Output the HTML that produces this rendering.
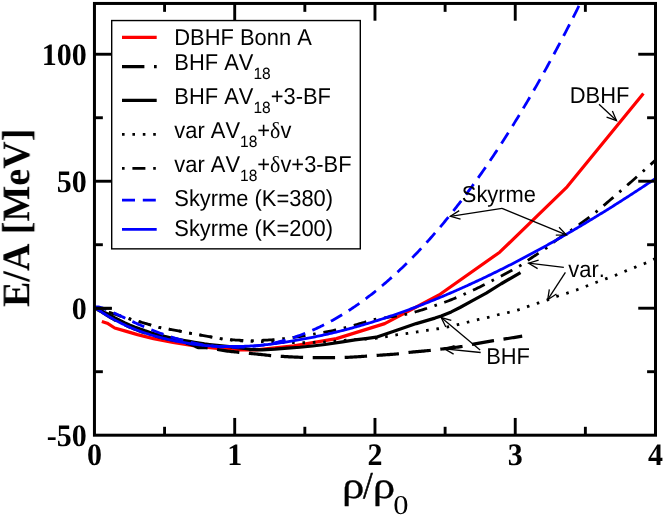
<!DOCTYPE html>
<html><head><meta charset="utf-8"><title>EOS</title>
<style>html,body{margin:0;padding:0;background:#fff;}svg{display:block;}text{font-kerning:none;}</style>
</head><body>
<svg width="664" height="515" viewBox="0 0 664 515">
<rect x="0" y="0" width="664" height="515" fill="#fff"/>
<defs><clipPath id="pc"><rect x="94.45" y="3.45" width="561.05" height="431.75"/></clipPath></defs>
<g clip-path="url(#pc)" fill="none" stroke-linejoin="round">
<polyline points="101.84,321.40 107.21,323.20 114.72,328.00 124.70,330.90 137.52,334.60 153.53,338.60 173.09,342.40 196.55,346.20 224.26,349.10 239.82,349.80 256.58,349.90 293.86,345.80 336.46,338.60 384.73,323.60 439.03,295.00 499.71,252.20 567.13,186.80 643.40,93.40" stroke="#ff0000" stroke-width="3.2"/>
<polyline points="94.45,308.21 95.88,308.91 97.31,309.63 98.74,310.39 100.17,311.17 101.60,311.98 103.03,312.84 104.46,313.76 105.89,314.69 107.33,315.60 108.76,316.47 110.19,317.31 111.62,318.14 113.05,318.94 114.48,319.73 115.91,320.49 117.34,321.24 118.77,321.98 120.20,322.69 121.63,323.39 123.06,324.08 124.49,324.75 125.92,325.40 127.35,326.04 128.78,326.67 130.22,327.28 131.65,327.87 133.08,328.46 134.51,329.03 135.94,329.58 137.37,330.13 138.80,330.66 140.23,331.18 141.66,331.69 143.09,332.18 144.52,332.66 145.95,333.14 147.38,333.60 148.81,334.05 150.24,334.49 151.67,334.92 153.10,335.33 154.54,335.74 155.97,336.14 157.40,336.52 158.83,336.90 160.26,337.27 161.69,337.62 163.12,337.97 164.55,338.31 165.98,338.64 167.41,338.97 168.84,339.28 170.27,339.59 171.70,339.90 173.13,340.20 174.56,340.49 175.99,340.79 177.42,341.09 178.86,341.39 180.29,341.71 181.72,342.02 183.15,342.35 184.58,342.69 186.01,343.06 187.44,343.44 188.87,343.84 190.30,344.26 191.73,344.71 193.16,345.23 194.59,345.93 196.02,346.70 197.45,347.36 198.88,347.74 200.31,347.62 201.75,347.51 203.18,347.55 204.61,347.63 206.04,347.75 207.47,347.90 208.90,348.08 210.33,348.28 211.76,348.50 213.19,348.73 214.62,348.98 216.05,349.23 217.48,349.49 218.91,349.74 220.34,350.00 221.77,350.24 223.20,350.47 224.63,350.69 226.07,350.88 227.50,351.06 228.93,351.22 230.36,351.38 231.79,351.54 233.22,351.69 234.65,351.85 236.08,352.00 237.51,352.14 238.94,352.29 240.37,352.43 241.80,352.58 243.23,352.72 244.66,352.86 246.09,353.01 247.52,353.15 248.96,353.29 250.39,353.44 251.82,353.58 253.25,353.72 254.68,353.86 256.11,354.01 257.54,354.15 258.97,354.29 260.40,354.44 261.83,354.60 263.26,354.77 264.69,354.93 266.12,355.10 267.55,355.26 268.98,355.40 270.41,355.54 271.84,355.66 273.28,355.78 274.71,355.89 276.14,356.00 277.57,356.10 279.00,356.20 280.43,356.29 281.86,356.38 283.29,356.46 284.72,356.55 286.15,356.63 287.58,356.71 289.01,356.79 290.44,356.86 291.87,356.94 293.30,357.01 294.73,357.08 296.16,357.14 297.60,357.20 299.03,357.26 300.46,357.32 301.89,357.38 303.32,357.43 304.75,357.49 306.18,357.55 307.61,357.60 309.04,357.65 310.47,357.68 311.90,357.70 313.33,357.70 314.76,357.70 316.19,357.70 317.62,357.69 319.05,357.69 320.49,357.68 321.92,357.67 323.35,357.67 324.78,357.66 326.21,357.65 327.64,357.64 329.07,357.63 330.50,357.62 331.93,357.60 333.36,357.59 334.79,357.58 336.22,357.56 337.65,357.54 339.08,357.52 340.51,357.49 341.94,357.47 343.37,357.44 344.81,357.40 346.24,357.37 347.67,357.32 349.10,357.26 350.53,357.19 351.96,357.11 353.39,357.02 354.82,356.93 356.25,356.84 357.68,356.74 359.11,356.64 360.54,356.54 361.97,356.44 363.40,356.33 364.83,356.24 366.26,356.14 367.69,356.05 369.13,355.96 370.56,355.86 371.99,355.77 373.42,355.67 374.85,355.57 376.28,355.47 377.71,355.37 379.14,355.27 380.57,355.17 382.00,355.07 383.43,354.97 384.86,354.87 386.29,354.77 387.72,354.67 389.15,354.56 390.58,354.46 392.02,354.34 393.45,354.23 394.88,354.11 396.31,353.98 397.74,353.85 399.17,353.71 400.60,353.55 402.03,353.36 403.46,353.17 404.89,352.97 406.32,352.77 407.75,352.57 409.18,352.39 410.61,352.23 412.04,352.08 413.47,351.94 414.90,351.80 416.34,351.67 417.77,351.54 419.20,351.41 420.63,351.29 422.06,351.17 423.49,351.04 424.92,350.91 426.35,350.78 427.78,350.65 429.21,350.51 430.64,350.36 432.07,350.21 433.50,350.05 434.93,349.88 436.36,349.71 437.79,349.53 439.23,349.35 440.66,349.17 442.09,349.00 443.52,348.82 444.95,348.65 446.38,348.49 447.81,348.32 449.24,348.15 450.67,347.98 452.10,347.81 453.53,347.64 454.96,347.46 456.39,347.27 457.82,347.08 459.25,346.88 460.68,346.68 462.11,346.46 463.55,346.23 464.98,345.99 466.41,345.70 467.84,345.40 469.27,345.09 470.70,344.77 472.13,344.47 473.56,344.19 474.99,343.92 476.42,343.64 477.85,343.37 479.28,343.11 480.71,342.84 482.14,342.58 483.57,342.32 485.00,342.06 486.43,341.81 487.87,341.56 489.30,341.31 490.73,341.07 492.16,340.83 493.59,340.60 495.02,340.37 496.45,340.15 497.88,339.94 499.31,339.73 500.74,339.52 502.17,339.32 503.60,339.11 505.03,338.90 506.46,338.68 507.89,338.46 509.32,338.24 510.76,338.02 512.19,337.79 513.62,337.57 515.05,337.34 516.48,337.12 517.91,336.89 519.34,336.66 520.77,336.43 522.20,336.20" stroke="#000" stroke-width="3.2" stroke-dasharray="22.40,9.60" stroke-dashoffset="-2.8"/>
<polyline points="94.45,308.21 99.45,309.70 104.45,312.33 109.45,314.80 114.45,317.58 119.45,320.21 124.45,322.63 129.45,324.87 134.45,326.94 139.45,328.85 144.45,330.62 149.45,332.24 154.45,333.73 159.45,335.09 164.45,336.34 169.45,337.47 174.45,338.58 179.45,339.60 184.45,340.51 189.45,341.34 194.45,342.28 199.45,343.16 204.45,343.95 209.45,344.57 214.45,345.10 219.45,345.67 224.45,346.19 229.45,346.71 234.45,347.36 239.45,347.94 244.45,348.53 249.45,349.23 250.00,349.60 262.00,349.80 275.00,349.20 287.50,348.20 300.00,347.25 312.50,346.00 325.00,344.50 342.50,341.90 355.00,339.90 367.50,338.30 376.25,337.20 397.50,330.00 416.25,323.60 435.00,318.10 441.25,316.00 451.25,311.90 460.00,307.50 472.50,300.60 486.25,293.20 501.25,283.75 520.50,272.60" stroke="#000" stroke-width="3.2"/>
<polyline points="99.00,309.10 100.40,309.55 101.79,310.01 103.19,310.46 104.58,310.91 105.98,311.36 107.37,311.81 108.77,312.26 110.16,312.71 111.56,313.16 112.95,313.61 114.35,314.06 115.75,314.51 117.14,314.96 118.54,315.41 119.93,315.86 121.33,316.31 122.72,316.76 124.12,317.20 125.51,317.64 126.91,318.08 128.31,318.51 129.70,318.93 131.10,319.35 132.49,319.76 133.89,320.17 135.28,320.57 136.68,320.96 138.07,321.35 139.47,321.74 140.86,322.13 142.26,322.52 143.66,322.91 145.05,323.30 146.45,323.70 147.84,324.12 149.24,324.55 150.63,324.98 152.03,325.42 153.42,325.85 154.82,326.27 156.22,326.67 157.61,327.05 159.01,327.41 160.40,327.73 161.80,328.02 163.19,328.29 164.59,328.54 165.98,328.77 167.38,329.00 168.77,329.22 170.17,329.43 171.57,329.65 172.96,329.88 174.36,330.11 175.75,330.35 177.15,330.62 178.54,330.89 179.94,331.16 181.33,331.45 182.73,331.73 184.12,332.02 185.52,332.31 186.92,332.60 188.31,332.88 189.71,333.15 191.10,333.42 192.50,333.68 193.89,333.93 195.29,334.18 196.68,334.43 198.08,334.68 199.48,334.92 200.87,335.16 202.27,335.40 203.66,335.65 205.06,335.89 206.45,336.14 207.85,336.39 209.24,336.65 210.64,336.91 212.03,337.18 213.43,337.44 214.83,337.70 216.22,337.95 217.62,338.20 219.01,338.42 220.41,338.64 221.80,338.83 223.20,339.01 224.59,339.19 225.99,339.37 227.38,339.55 228.78,339.72 230.18,339.89 231.57,340.05 232.97,340.21 234.36,340.35 235.76,340.49 237.15,340.62 238.55,340.73 239.94,340.83 241.34,340.92 242.74,340.99 244.13,341.05 245.53,341.09 246.92,341.14 248.32,341.18 249.71,341.21 251.11,341.25 252.50,341.29 253.90,341.33 255.29,341.37 256.69,341.42 258.09,341.46 259.48,341.50 260.88,341.55 262.27,341.58 263.67,341.61 265.06,341.64 266.46,341.67 267.85,341.69 269.25,341.71 270.65,341.74 272.04,341.76 273.44,341.80 274.83,341.84 276.23,341.90 277.62,341.97 279.02,342.05 280.41,342.13 281.81,342.20 283.20,342.27 284.60,342.34 286.00,342.41 287.39,342.48 288.79,342.54 290.18,342.61 291.58,342.66 292.97,342.69 294.37,342.71 295.76,342.72 297.16,342.73 298.55,342.73 299.95,342.74 301.35,342.75 302.74,342.75 304.14,342.75 305.53,342.74 306.93,342.69 308.32,342.63 309.72,342.55 311.11,342.47 312.51,342.39 313.91,342.32 315.30,342.27 316.70,342.23 318.09,342.20 319.49,342.16 320.88,342.13 322.28,342.09 323.67,342.05 325.07,342.00 326.46,341.92 327.86,341.83 329.26,341.72 330.65,341.59 332.05,341.47 333.44,341.34 334.84,341.21 336.23,341.09 337.63,340.97 339.02,340.84 340.42,340.72 341.82,340.59 343.21,340.47 344.61,340.35 346.00,340.24 347.40,340.14 348.79,340.04 350.19,339.95 351.58,339.86 352.98,339.77 354.37,339.69 355.77,339.60 357.17,339.52 358.56,339.44 359.96,339.36 361.35,339.28 362.75,339.20 364.14,339.11 365.54,339.03 366.93,338.93 368.33,338.84 369.72,338.73 371.12,338.63 372.52,338.51 373.91,338.39 375.31,338.26 376.70,338.12 378.10,337.96 379.49,337.77 380.89,337.55 382.28,337.31 383.68,337.06 385.08,336.81 386.47,336.57 387.87,336.34 389.26,336.09 390.66,335.85 392.05,335.60 393.45,335.35 394.84,335.11 396.24,334.88 397.63,334.67 399.03,334.47 400.43,334.29 401.82,334.11 403.22,333.93 404.61,333.75 406.01,333.57 407.40,333.38 408.80,333.18 410.19,332.98 411.59,332.78 412.98,332.58 414.38,332.37 415.78,332.16 417.17,331.95 418.57,331.73 419.96,331.51 421.36,331.28 422.75,331.05 424.15,330.82 425.54,330.60 426.94,330.38 428.34,330.16 429.73,329.96 431.13,329.77 432.52,329.58 433.92,329.38 435.31,329.19 436.71,328.98 438.10,328.75 439.50,328.50 440.89,328.24 442.29,327.96 443.69,327.66 445.08,327.37 446.48,327.07 447.87,326.77 449.27,326.48 450.66,326.18 452.06,325.88 453.45,325.58 454.85,325.28 456.25,324.97 457.64,324.65 459.04,324.33 460.43,323.99 461.83,323.65 463.22,323.30 464.62,322.95 466.01,322.60 467.41,322.25 468.80,321.90 470.20,321.55 471.60,321.20 472.99,320.85 474.39,320.50 475.78,320.16 477.18,319.82 478.57,319.48 479.97,319.16 481.36,318.85 482.76,318.54 484.15,318.24 485.55,317.93 486.95,317.61 488.34,317.29 489.74,316.94 491.13,316.58 492.53,316.21 493.92,315.84 495.32,315.46 496.71,315.09 498.11,314.74 499.51,314.41 500.90,314.10 502.30,313.80 503.69,313.51 505.09,313.21 506.48,312.91 507.88,312.59 509.27,312.26 510.67,311.92 512.06,311.57 513.46,311.21 514.86,310.83 516.25,310.45 517.65,310.04 519.04,309.63 520.44,309.18 521.83,308.70 523.23,308.20 524.62,307.69 526.02,307.18 527.42,306.68 528.81,306.19 530.21,305.72 531.60,305.26 533.00,304.80 534.39,304.34 535.79,303.87 537.18,303.41 538.58,302.94 539.97,302.47 541.37,301.99 542.77,301.52 544.16,301.04 545.56,300.56 546.95,300.07 548.35,299.58 549.74,299.06 551.14,298.54 552.53,298.01 553.93,297.47 555.32,296.95 556.72,296.44 558.12,295.96 559.51,295.50 560.91,295.06 562.30,294.64 563.70,294.21 565.09,293.79 566.49,293.36 567.88,292.91 569.28,292.45 570.68,291.99 572.07,291.52 573.47,291.05 574.86,290.56 576.26,290.07 577.65,289.56 579.05,289.04 580.44,288.49 581.84,287.94 583.23,287.39 584.63,286.83 586.03,286.28 587.42,285.74 588.82,285.20 590.21,284.66 591.61,284.12 593.00,283.58 594.40,283.04 595.79,282.51 597.19,281.98 598.58,281.45 599.98,280.92 601.38,280.39 602.77,279.87 604.17,279.35 605.56,278.83 606.96,278.33 608.35,277.83 609.75,277.35 611.14,276.87 612.54,276.38 613.94,275.88 615.33,275.36 616.73,274.81 618.12,274.24 619.52,273.64 620.91,273.04 622.31,272.43 623.70,271.83 625.10,271.24 626.49,270.67 627.89,270.11 629.29,269.56 630.68,269.01 632.08,268.46 633.47,267.91 634.87,267.35 636.26,266.80 637.66,266.26 639.05,265.72 640.45,265.17 641.85,264.62 643.24,264.06 644.64,263.48 646.03,262.88 647.43,262.24 648.82,261.58 650.22,260.91 651.61,260.24 653.01,259.60 654.40,258.98 655.80,258.40" stroke="#000" stroke-width="2.8" stroke-dasharray="2.59,7.78"/>
<polyline points="99.00,309.10 100.39,309.55 101.79,310.01 103.18,310.46 104.57,310.91 105.97,311.36 107.36,311.81 108.75,312.26 110.15,312.71 111.54,313.15 112.93,313.60 114.33,314.05 115.72,314.50 117.12,314.95 118.51,315.40 119.90,315.85 121.30,316.30 122.69,316.75 124.08,317.19 125.48,317.63 126.87,318.07 128.26,318.50 129.66,318.92 131.05,319.34 132.44,319.75 133.84,320.15 135.23,320.55 136.62,320.94 138.02,321.33 139.41,321.72 140.80,322.11 142.20,322.50 143.59,322.89 144.98,323.28 146.38,323.68 147.77,324.10 149.17,324.52 150.56,324.96 151.95,325.39 153.35,325.82 154.74,326.24 156.13,326.65 157.53,327.03 158.92,327.39 160.31,327.71 161.71,328.00 163.10,328.27 164.49,328.52 165.89,328.76 167.28,328.98 168.67,329.20 170.07,329.42 171.46,329.63 172.85,329.86 174.25,330.09 175.64,330.33 177.04,330.59 178.43,330.86 179.82,331.14 181.22,331.42 182.61,331.71 184.00,332.00 185.40,332.29 186.79,332.57 188.18,332.85 189.58,333.13 190.97,333.39 192.36,333.65 193.76,333.91 195.15,334.16 196.54,334.41 197.94,334.65 199.33,334.89 200.72,335.14 202.12,335.38 203.51,335.62 204.90,335.86 206.30,336.11 207.69,336.36 209.09,336.63 210.48,336.90 211.87,337.17 213.27,337.44 214.66,337.71 216.05,337.96 217.45,338.21 218.84,338.43 220.23,338.63 221.63,338.80 223.02,338.96 224.41,339.11 225.81,339.25 227.20,339.39 228.59,339.52 229.99,339.64 231.38,339.75 232.77,339.85 234.17,339.94 235.56,340.03 236.95,340.10 238.35,340.16 239.74,340.23 241.14,340.30 242.53,340.36 243.92,340.42 245.32,340.47 246.71,340.51 248.10,340.55 249.50,340.58 250.89,340.60 252.28,340.60 253.68,340.59 255.07,340.57 256.46,340.54 257.86,340.50 259.25,340.45 260.64,340.39 262.04,340.33 263.43,340.26 264.82,340.19 266.22,340.12 267.61,340.05 269.01,339.97 270.40,339.89 271.79,339.79 273.19,339.67 274.58,339.55 275.97,339.42 277.37,339.28 278.76,339.14 280.15,338.99 281.55,338.84 282.94,338.69 284.33,338.54 285.73,338.38 287.12,338.21 288.51,338.04 289.91,337.87 291.30,337.69 292.69,337.50 294.09,337.31 295.48,337.11 296.87,336.91 298.27,336.71 299.66,336.50 301.06,336.29 302.45,336.06 303.84,335.84 305.24,335.60 306.63,335.36 308.02,335.12 309.42,334.88 310.81,334.63 312.20,334.38 313.60,334.14 314.99,333.90 316.38,333.66 317.78,333.42 319.17,333.18 320.56,332.94 321.96,332.70 323.35,332.45 324.74,332.20 326.14,331.95 327.53,331.69 328.92,331.42 330.32,331.13 331.71,330.84 333.11,330.54 334.50,330.23 335.89,329.91 337.29,329.59 338.68,329.25 340.07,328.91 341.47,328.57 342.86,328.22 344.25,327.88 345.65,327.52 347.04,327.16 348.43,326.79 349.83,326.42 351.22,326.04 352.61,325.65 354.01,325.26 355.40,324.87 356.79,324.48 358.19,324.09 359.58,323.70 360.97,323.31 362.37,322.90 363.76,322.48 365.16,322.05 366.55,321.61 367.94,321.19 369.34,320.77 370.73,320.38 372.12,320.01 373.52,319.67 374.91,319.37 376.30,319.10 377.70,318.85 379.09,318.62 380.48,318.40 381.88,318.19 383.27,317.99 384.66,317.79 386.06,317.60 387.45,317.39 388.84,317.18 390.24,316.96 391.63,316.74 393.03,316.52 394.42,316.31 395.81,316.10 397.21,315.88 398.60,315.66 399.99,315.43 401.39,315.20 402.78,314.95 404.17,314.69 405.57,314.41 406.96,314.11 408.35,313.78 409.75,313.43 411.14,313.06 412.53,312.68 413.93,312.29 415.32,311.88 416.71,311.47 418.11,311.05 419.50,310.64 420.89,310.22 422.29,309.80 423.68,309.36 425.08,308.92 426.47,308.47 427.86,308.01 429.26,307.55 430.65,307.08 432.04,306.61 433.44,306.13 434.83,305.66 436.22,305.18 437.62,304.70 439.01,304.22 440.40,303.74 441.80,303.25 443.19,302.75 444.58,302.25 445.98,301.74 447.37,301.23 448.76,300.70 450.16,300.16 451.55,299.61 452.94,299.05 454.34,298.47 455.73,297.88 457.13,297.29 458.52,296.69 459.91,296.09 461.31,295.48 462.70,294.86 464.09,294.25 465.49,293.63 466.88,293.01 468.27,292.38 469.67,291.75 471.06,291.11 472.45,290.47 473.85,289.82 475.24,289.17 476.63,288.50 478.03,287.83 479.42,287.16 480.81,286.47 482.21,285.77 483.60,285.06 484.99,284.34 486.39,283.63 487.78,282.91 489.18,282.18 490.57,281.46 491.96,280.75 493.36,280.03 494.75,279.32 496.14,278.61 497.54,277.90 498.93,277.19 500.32,276.47 501.72,275.75 503.11,275.03 504.50,274.30 505.90,273.56 507.29,272.82 508.68,272.08 510.08,271.34 511.47,270.60 512.86,269.85 514.26,269.09 515.65,268.31 517.05,267.52 518.44,266.70 519.83,265.86 521.23,264.98 522.62,264.06 524.01,263.11 525.41,262.15 526.80,261.17 528.19,260.18 529.59,259.20 530.98,258.23 532.37,257.28 533.77,256.36 535.16,255.46 536.55,254.57 537.95,253.68 539.34,252.79 540.73,251.89 542.13,250.97 543.52,250.03 544.91,249.06 546.31,248.05 547.70,246.98 549.10,245.89 550.49,244.77 551.88,243.65 553.28,242.53 554.67,241.43 556.06,240.36 557.46,239.33 558.85,238.35 560.24,237.40 561.64,236.47 563.03,235.56 564.42,234.66 565.82,233.76 567.21,232.86 568.60,231.94 570.00,231.01 571.39,230.06 572.78,229.09 574.18,228.12 575.57,227.14 576.96,226.15 578.36,225.16 579.75,224.16 581.15,223.16 582.54,222.15 583.93,221.13 585.33,220.11 586.72,219.08 588.11,218.05 589.51,217.01 590.90,215.96 592.29,214.90 593.69,213.82 595.08,212.73 596.47,211.62 597.87,210.48 599.26,209.33 600.65,208.15 602.05,206.96 603.44,205.77 604.83,204.57 606.23,203.38 607.62,202.18 609.02,200.99 610.41,199.79 611.80,198.59 613.20,197.40 614.59,196.20 615.98,195.00 617.38,193.79 618.77,192.59 620.16,191.38 621.56,190.18 622.95,188.97 624.34,187.76 625.74,186.54 627.13,185.33 628.52,184.11 629.92,182.90 631.31,181.68 632.70,180.45 634.10,179.23 635.49,178.01 636.88,176.78 638.28,175.55 639.67,174.32 641.07,173.08 642.46,171.84 643.85,170.60 645.25,169.36 646.64,168.12 648.03,166.87 649.43,165.62 650.82,164.37 652.21,163.12 653.61,161.86 655.00,160.60" stroke="#000" stroke-width="2.8" stroke-dasharray="2.60,7.80,13.00,7.80"/>
<polyline points="94.45,308.21 95.72,306.99 96.98,306.86 98.25,306.97 99.51,307.21 100.78,307.54 102.04,307.93 103.31,308.36 104.57,308.83 105.84,309.32 107.11,309.84 108.37,310.37 109.64,310.92 110.90,311.48 112.17,312.05 113.43,312.63 114.70,313.22 115.96,313.81 117.23,314.40 118.50,315.00 119.76,315.60 121.03,316.20 122.29,316.79 123.56,317.39 124.82,317.99 126.09,318.59 127.35,319.19 128.62,319.78 129.88,320.37 131.15,320.96 132.42,321.55 133.68,322.13 134.95,322.71 136.21,323.28 137.48,323.85 138.74,324.42 140.01,324.98 141.27,325.54 142.54,326.09 143.81,326.64 145.07,327.18 146.34,327.72 147.60,328.25 148.87,328.77 150.13,329.29 151.40,329.80 152.66,330.31 153.93,330.81 155.20,331.30 156.46,331.79 157.73,332.27 158.99,332.75 160.26,333.22 161.52,333.68 162.79,334.13 164.05,334.58 165.32,335.02 166.59,335.45 167.85,335.88 169.12,336.30 170.38,336.71 171.65,337.12 172.91,337.52 174.18,337.91 175.44,338.29 176.71,338.67 177.97,339.03 179.24,339.39 180.51,339.75 181.77,340.09 183.04,340.43 184.30,340.76 185.57,341.08 186.83,341.40 188.10,341.70 189.36,342.00 190.63,342.29 191.90,342.58 193.16,342.85 194.43,343.12 195.69,343.38 196.96,343.63 198.22,343.87 199.49,344.10 200.75,344.33 202.02,344.55 203.29,344.76 204.55,344.96 205.82,345.15 207.08,345.34 208.35,345.52 209.61,345.68 210.88,345.85 212.14,346.00 213.41,346.14 214.68,346.28 215.94,346.40 217.21,346.52 218.47,346.63 219.74,346.73 221.00,346.83 222.27,346.91 223.53,346.99 224.80,347.05 226.06,347.11 227.33,347.16 228.60,347.20 229.86,347.24 231.13,347.26 232.39,347.28 233.66,347.29 234.92,347.28 236.19,347.27 237.45,347.25 238.72,347.23 239.99,347.19 241.25,347.15 242.52,347.09 243.78,347.03 245.05,346.96 246.31,346.88 247.58,346.79 248.84,346.69 250.11,346.59 251.38,346.47 252.64,346.35 253.91,346.22 255.17,346.07 256.44,345.92 257.70,345.76 258.97,345.60 260.23,345.42 261.50,345.23 262.76,345.04 264.03,344.83 265.30,344.62 266.56,344.40 267.83,344.17 269.09,343.93 270.36,343.68 271.62,343.42 272.89,343.16 274.15,342.88 275.42,342.60 276.69,342.30 277.95,342.00 279.22,341.69 280.48,341.37 281.75,341.04 283.01,340.70 284.28,340.36 285.54,340.00 286.81,339.63 288.08,339.26 289.34,338.88 290.61,338.48 291.87,338.08 293.14,337.67 294.40,337.25 295.67,336.82 296.93,336.38 298.20,335.94 299.47,335.48 300.73,335.02 302.00,334.54 303.26,334.06 304.53,333.56 305.79,333.06 307.06,332.55 308.32,332.03 309.59,331.50 310.86,330.96 312.12,330.42 313.39,329.86 314.65,329.29 315.92,328.72 317.18,328.13 318.45,327.54 319.71,326.94 320.98,326.33 322.24,325.71 323.51,325.08 324.78,324.44 326.04,323.79 327.31,323.13 328.57,322.46 329.84,321.79 331.10,321.10 332.37,320.41 333.63,319.70 334.90,318.99 336.17,318.27 337.43,317.54 338.70,316.79 339.96,316.04 341.23,315.29 342.49,314.52 343.76,313.74 345.02,312.95 346.29,312.16 347.56,311.35 348.82,310.53 350.09,309.71 351.35,308.88 352.62,308.03 353.88,307.18 355.15,306.32 356.41,305.45 357.68,304.57 358.94,303.68 360.21,302.78 361.48,301.87 362.74,300.96 364.01,300.03 365.27,299.09 366.54,298.15 367.80,297.19 369.07,296.23 370.33,295.26 371.60,294.28 372.87,293.28 374.13,292.28 375.40,291.27 376.66,290.25 377.93,289.22 379.19,288.18 380.46,287.14 381.72,286.08 382.99,285.01 384.26,283.94 385.52,282.85 386.79,281.76 388.05,280.65 389.32,279.54 390.58,278.42 391.85,277.28 393.11,276.14 394.38,274.99 395.65,273.83 396.91,272.66 398.18,271.48 399.44,270.30 400.71,269.10 401.97,267.89 403.24,266.67 404.50,265.45 405.77,264.21 407.03,262.97 408.30,261.71 409.57,260.45 410.83,259.18 412.10,257.90 413.36,256.60 414.63,255.30 415.89,253.99 417.16,252.67 418.42,251.34 419.69,250.00 420.96,248.66 422.22,247.30 423.49,245.93 424.75,244.55 426.02,243.17 427.28,241.77 428.55,240.37 429.81,238.95 431.08,237.53 432.35,236.10 433.61,234.66 434.88,233.20 436.14,231.74 437.41,230.27 438.67,228.79 439.94,227.30 441.20,225.80 442.47,224.29 443.74,222.78 445.00,221.25 446.27,219.71 447.53,218.16 448.80,216.61 450.06,215.04 451.33,213.47 452.59,211.88 453.86,210.29 455.12,208.69 456.39,207.07 457.66,205.45 458.92,203.82 460.19,202.18 461.45,200.53 462.72,198.87 463.98,197.20 465.25,195.52 466.51,193.83 467.78,192.14 469.05,190.43 470.31,188.71 471.58,186.98 472.84,185.25 474.11,183.50 475.37,181.75 476.64,179.98 477.90,178.21 479.17,176.43 480.44,174.63 481.70,172.83 482.97,171.02 484.23,169.20 485.50,167.37 486.76,165.53 488.03,163.68 489.29,161.82 490.56,159.95 491.83,158.07 493.09,156.18 494.36,154.29 495.62,152.38 496.89,150.46 498.15,148.54 499.42,146.60 500.68,144.66 501.95,142.70 503.21,140.74 504.48,138.77 505.75,136.78 507.01,134.79 508.28,132.79 509.54,130.78 510.81,128.76 512.07,126.73 513.34,124.69 514.60,122.64 515.87,120.58 517.14,118.51 518.40,116.43 519.67,114.35 520.93,112.25 522.20,110.14 523.46,108.03 524.73,105.90 525.99,103.76 527.26,101.62 528.53,99.47 529.79,97.30 531.06,95.13 532.32,92.95 533.59,90.75 534.85,88.55 536.12,86.34 537.38,84.12 538.65,81.89 539.92,79.65 541.18,77.40 542.45,75.14 543.71,72.87 544.98,70.59 546.24,68.30 547.51,66.01 548.77,63.70 550.04,61.38 551.30,59.06 552.57,56.72 553.84,54.38 555.10,52.02 556.37,49.66 557.63,47.28 558.90,44.90 560.16,42.51 561.43,40.10 562.69,37.69 563.96,35.27 565.23,32.84 566.49,30.40 567.76,27.95 569.02,25.49 570.29,23.02 571.55,20.54 572.82,18.05 574.08,15.55 575.35,13.05 576.62,10.53 577.88,8.00 579.15,5.47 580.41,2.92 581.68,0.36 582.94,-2.20 584.21,-4.77 585.47,-7.36 586.74,-9.95 588.01,-12.56 589.27,-15.17 590.54,-17.79 591.80,-20.42 593.07,-23.07 594.33,-25.72 595.60,-28.38 596.86,-31.05 598.13,-33.73 599.39,-36.42" stroke="#0000ff" stroke-width="2.8" stroke-dasharray="12.95,7.77"/>
<polyline points="94.45,308.21 95.86,308.31 97.26,309.15 98.67,310.07 100.07,311.00 101.48,311.94 102.89,312.86 104.29,313.76 105.70,314.65 107.11,315.52 108.51,316.38 109.92,317.21 111.32,318.03 112.73,318.83 114.14,319.61 115.54,320.37 116.95,321.12 118.35,321.85 119.76,322.56 121.17,323.26 122.57,323.94 123.98,324.61 125.39,325.26 126.79,325.90 128.20,326.53 129.60,327.14 131.01,327.74 132.42,328.32 133.82,328.89 135.23,329.45 136.63,330.00 138.04,330.53 139.45,331.05 140.85,331.56 142.26,332.06 143.66,332.55 145.07,333.02 146.48,333.49 147.88,333.94 149.29,334.39 150.70,334.82 152.10,335.24 153.51,335.66 154.91,336.06 156.32,336.45 157.73,336.83 159.13,337.21 160.54,337.57 161.94,337.93 163.35,338.27 164.76,338.61 166.16,338.94 167.57,339.25 168.98,339.56 170.38,339.87 171.79,340.19 173.19,340.51 174.60,340.81 176.01,341.11 177.41,341.39 178.82,341.67 180.22,341.94 181.63,342.21 183.04,342.46 184.44,342.71 185.85,342.95 187.26,343.19 188.66,343.41 190.07,343.63 191.47,343.84 192.88,344.04 194.29,344.24 195.69,344.43 197.10,344.61 198.50,344.79 199.91,344.96 201.32,345.12 202.72,345.27 204.13,345.42 205.54,345.55 206.94,345.66 208.35,345.76 209.75,345.85 211.16,345.94 212.57,346.02 213.97,346.10 215.38,346.17 216.78,346.23 218.19,346.29 219.60,346.34 221.00,346.38 222.41,346.42 223.81,346.45 225.22,346.48 226.63,346.50 228.03,346.51 229.44,346.52 230.85,346.52 232.25,346.52 233.66,346.51 235.06,346.50 236.47,346.48 237.88,346.45 239.28,346.42 240.69,346.38 242.09,346.34 243.50,346.30 244.91,346.24 246.31,346.18 247.72,346.12 249.13,346.05 250.53,345.98 251.94,345.90 253.34,345.82 254.75,345.73 256.16,345.63 257.56,345.54 258.97,345.43 260.37,345.32 261.78,345.18 263.19,345.03 264.59,344.89 266.00,344.73 267.41,344.57 268.81,344.41 270.22,344.24 271.62,344.07 273.03,343.89 274.44,343.71 275.84,343.52 277.25,343.33 278.65,343.14 280.06,342.94 281.47,342.73 282.87,342.52 284.28,342.31 285.69,342.09 287.09,341.87 288.50,341.64 289.90,341.41 291.31,341.17 292.72,340.93 294.12,340.68 295.53,340.44 296.93,340.18 298.34,339.92 299.75,339.66 301.15,339.42 302.56,339.17 303.96,338.92 305.37,338.66 306.78,338.41 308.18,338.14 309.59,337.88 311.00,337.61 312.40,337.33 313.81,337.05 315.21,336.77 316.62,336.48 318.03,336.19 319.43,335.89 320.84,335.60 322.24,335.29 323.65,334.98 325.06,334.67 326.46,334.36 327.87,334.04 329.28,333.72 330.68,333.39 332.09,333.06 333.49,332.73 334.90,332.39 336.31,332.05 337.71,331.70 339.12,331.35 340.52,331.00 341.93,330.64 343.34,330.28 344.74,329.92 346.15,329.55 347.56,329.18 348.96,328.81 350.37,328.43 351.77,328.05 353.18,327.66 354.59,327.27 355.99,326.88 357.40,326.48 358.80,326.08 360.21,325.68 361.62,325.27 363.02,324.86 364.43,324.45 365.84,324.03 367.24,323.61 368.65,323.19 370.05,322.76 371.46,322.33 372.87,321.89 374.27,321.46 375.68,321.02 377.08,320.57 378.49,320.12 379.90,319.67 381.30,319.22 382.71,318.76 384.11,318.30 385.52,317.84 386.93,317.37 388.33,316.90 389.74,316.42 391.15,315.95 392.55,315.47 393.96,314.98 395.36,314.50 396.77,314.01 398.18,313.51 399.58,313.02 400.99,312.52 402.39,312.01 403.80,311.51 405.21,311.00 406.61,310.49 408.02,309.97 409.43,309.45 410.83,308.93 412.24,308.41 413.64,307.88 415.05,307.35 416.46,306.82 417.86,306.28 419.27,305.74 420.67,305.20 422.08,304.65 423.49,304.10 424.89,303.55 426.30,303.00 427.71,302.44 429.11,301.88 430.52,301.32 431.92,300.75 433.33,300.18 434.74,299.61 436.14,299.03 437.55,298.46 438.95,297.87 440.36,297.29 441.77,296.70 443.17,296.12 444.58,295.52 445.99,294.93 447.39,294.33 448.80,293.73 450.20,293.13 451.61,292.52 453.02,291.91 454.42,291.30 455.83,290.68 457.23,290.07 458.64,289.45 460.05,288.82 461.45,288.20 462.86,287.57 464.26,286.94 465.67,286.30 467.08,285.67 468.48,285.03 469.89,284.39 471.30,283.74 472.70,283.09 474.11,282.44 475.51,281.79 476.92,281.14 478.33,280.48 479.73,279.82 481.14,279.15 482.54,278.49 483.95,277.82 485.36,277.15 486.76,276.47 488.17,275.80 489.58,275.12 490.98,274.44 492.39,273.75 493.79,273.07 495.20,272.38 496.61,271.68 498.01,270.99 499.42,270.29 500.82,269.59 502.23,268.89 503.64,268.19 505.04,267.48 506.45,266.77 507.86,266.06 509.26,265.34 510.67,264.63 512.07,263.91 513.48,263.18 514.89,262.46 516.29,261.73 517.70,261.00 519.10,260.27 520.51,259.54 521.92,258.80 523.32,258.06 524.73,257.32 526.14,256.57 527.54,255.83 528.95,255.08 530.35,254.33 531.76,253.57 533.17,252.82 534.57,252.06 535.98,251.30 537.38,250.53 538.79,249.77 540.20,249.00 541.60,248.23 543.01,247.46 544.41,246.68 545.82,245.90 547.23,245.12 548.63,244.34 550.04,243.56 551.45,242.77 552.85,241.98 554.26,241.19 555.66,240.40 557.07,239.60 558.48,238.80 559.88,238.00 561.29,237.20 562.69,236.39 564.10,235.59 565.51,234.78 566.91,233.97 568.32,233.15 569.73,232.33 571.13,231.52 572.54,230.69 573.94,229.87 575.35,229.05 576.76,228.22 578.16,227.39 579.57,226.56 580.97,225.72 582.38,224.89 583.79,224.05 585.19,223.21 586.60,222.36 588.01,221.52 589.41,220.67 590.82,219.82 592.22,218.97 593.63,218.12 595.04,217.26 596.44,216.40 597.85,215.54 599.25,214.68 600.66,213.81 602.07,212.95 603.47,212.08 604.88,211.21 606.29,210.33 607.69,209.46 609.10,208.58 610.50,207.70 611.91,206.82 613.32,205.94 614.72,205.05 616.13,204.16 617.53,203.27 618.94,202.38 620.35,201.49 621.75,200.59 623.16,199.69 624.56,198.79 625.97,197.89 627.38,196.98 628.78,196.08 630.19,195.17 631.60,194.26 633.00,193.35 634.41,192.43 635.81,191.51 637.22,190.60 638.63,189.67 640.03,188.75 641.44,187.83 642.84,186.90 644.25,185.97 645.66,185.04 647.06,184.11 648.47,183.17 649.88,182.24 651.28,181.30 652.69,180.36 654.09,179.41 655.50,178.47" stroke="#0000ff" stroke-width="2.8"/>
<line x1="96" y1="308.4" x2="111.8" y2="308.4" stroke="#000" stroke-width="2.7"/>
</g>
<g stroke="#000" stroke-width="2.9" fill="none">
<line x1="164.58" y1="435.20" x2="164.58" y2="426.80"/>
<line x1="164.58" y1="3.45" x2="164.58" y2="11.85"/>
<line x1="234.71" y1="435.20" x2="234.71" y2="417.95"/>
<line x1="234.71" y1="3.45" x2="234.71" y2="20.70"/>
<line x1="304.84" y1="435.20" x2="304.84" y2="426.80"/>
<line x1="304.84" y1="3.45" x2="304.84" y2="11.85"/>
<line x1="374.97" y1="435.20" x2="374.97" y2="417.95"/>
<line x1="374.97" y1="3.45" x2="374.97" y2="20.70"/>
<line x1="445.11" y1="435.20" x2="445.11" y2="426.80"/>
<line x1="445.11" y1="3.45" x2="445.11" y2="11.85"/>
<line x1="515.24" y1="435.20" x2="515.24" y2="417.95"/>
<line x1="515.24" y1="3.45" x2="515.24" y2="20.70"/>
<line x1="585.37" y1="435.20" x2="585.37" y2="426.80"/>
<line x1="585.37" y1="3.45" x2="585.37" y2="11.85"/>
<line x1="94.45" y1="371.71" x2="102.85" y2="371.71"/>
<line x1="655.50" y1="371.71" x2="647.10" y2="371.71"/>
<line x1="94.45" y1="308.21" x2="111.70" y2="308.21"/>
<line x1="655.50" y1="308.21" x2="638.25" y2="308.21"/>
<line x1="94.45" y1="244.72" x2="102.85" y2="244.72"/>
<line x1="655.50" y1="244.72" x2="647.10" y2="244.72"/>
<line x1="94.45" y1="181.23" x2="111.70" y2="181.23"/>
<line x1="655.50" y1="181.23" x2="638.25" y2="181.23"/>
<line x1="94.45" y1="117.74" x2="102.85" y2="117.74"/>
<line x1="655.50" y1="117.74" x2="647.10" y2="117.74"/>
<line x1="94.45" y1="54.24" x2="111.70" y2="54.24"/>
<line x1="655.50" y1="54.24" x2="638.25" y2="54.24"/>
</g>
<rect x="94.45" y="3.45" width="561.05" height="431.75" fill="none" stroke="#000" stroke-width="3.0"/>
<rect x="111.7" y="20.55" width="248.60" height="228.30" fill="#fff" stroke="#000" stroke-width="1.4"/>
<g fill="none">
<line x1="122.0" y1="37.3" x2="156.7" y2="37.3" stroke="#ff0000" stroke-width="3.2"/>
<line x1="122.0" y1="66.7" x2="156.7" y2="66.7" stroke="#000" stroke-width="3.2" stroke-dasharray="22.40,9.60"/>
<line x1="122.0" y1="100.4" x2="156.7" y2="100.4" stroke="#000" stroke-width="3.2"/>
<line x1="122.0" y1="134.4" x2="156.7" y2="134.4" stroke="#000" stroke-width="2.8" stroke-dasharray="2.60,7.80"/>
<line x1="122.0" y1="168.4" x2="156.7" y2="168.4" stroke="#000" stroke-width="2.8" stroke-dasharray="2.60,7.80,13.00,7.80"/>
<line x1="122.0" y1="200.1" x2="156.7" y2="200.1" stroke="#0000ff" stroke-width="2.8" stroke-dasharray="13.00,7.80"/>
<line x1="122.0" y1="229.3" x2="156.7" y2="229.3" stroke="#0000ff" stroke-width="2.8"/>
</g>
<g font-family="'Liberation Sans', sans-serif" font-size="21.9px" fill="#000" text-rendering="geometricPrecision" style="opacity:0.999">
<text transform="translate(174.3,44.6) scale(1,1.05)">DBHF Bonn A</text>
<text transform="translate(174.3,69.6) scale(1,1.05)">BHF AV<tspan font-size="15.55px" dy="8.6">18</tspan></text>
<text transform="translate(174.3,103.6) scale(1,1.05)">BHF AV<tspan font-size="15.55px" dy="8.6">18</tspan><tspan dy="-8.6">+3-BF</tspan></text>
<text transform="translate(174.3,137.6) scale(1,1.05)">var AV<tspan font-size="15.55px" dy="8.6">18</tspan><tspan dy="-8.6">+<tspan font-family="'Liberation Serif', serif">δ</tspan>v</tspan></text>
<text transform="translate(174.3,171.6) scale(1,1.05)">var AV<tspan font-size="15.55px" dy="8.6">18</tspan><tspan dy="-8.6">+<tspan font-family="'Liberation Serif', serif">δ</tspan>v+3-BF</tspan></text>
<text transform="translate(174.3,206.1) scale(1,1.05)">Skyrme (K=380)</text>
<text transform="translate(174.3,235.6) scale(1,1.05)">Skyrme (K=200)</text>
<text transform="translate(569.8,103.2) scale(1,1.05)">DBHF</text>
<text transform="translate(461.8,201.6) scale(1,1.05)">Skyrme</text>
<text transform="translate(568.3,277.0) scale(1,1.05)">var.</text>
<text transform="translate(486.2,363.8) scale(1,1.05)">BHF</text>
</g>
<g stroke="#000" stroke-width="1.3" fill="none" stroke-linejoin="miter">
<line x1="599.00" y1="104.30" x2="616.50" y2="120.60"/><polyline points="606.57,117.19 616.50,120.60 612.39,110.94"/>
<line x1="502.00" y1="208.30" x2="450.40" y2="216.30"/><polyline points="459.22,210.61 450.40,216.30 460.53,219.05"/>
<line x1="502.00" y1="208.30" x2="566.30" y2="234.80"/><polyline points="555.80,235.09 566.30,234.80 559.06,227.20"/>
<line x1="563.80" y1="267.40" x2="528.60" y2="263.20"/><polyline points="538.63,260.10 528.60,263.20 537.62,268.58"/>
<line x1="565.40" y1="272.40" x2="547.70" y2="299.70"/><polyline points="549.33,289.33 547.70,299.70 556.50,293.97"/>
<line x1="480.10" y1="350.10" x2="441.20" y2="317.60"/><polyline points="451.30,320.47 441.20,317.60 445.82,327.03"/>
<line x1="480.70" y1="352.50" x2="444.50" y2="348.90"/><polyline points="454.47,345.60 444.50,348.90 453.62,354.10"/>
</g>
<g font-family="'Liberation Serif', serif" font-weight="bold" font-size="30px" fill="#000" text-rendering="geometricPrecision" style="opacity:0.999">
<text transform="translate(94.45,464.8) scale(1,1.04)" text-anchor="middle">0</text>
<text transform="translate(234.71,464.8) scale(1,1.04)" text-anchor="middle">1</text>
<text transform="translate(374.97,464.8) scale(1,1.04)" text-anchor="middle">2</text>
<text transform="translate(515.24,464.8) scale(1,1.04)" text-anchor="middle">3</text>
<text transform="translate(655.50,464.8) scale(1,1.04)" text-anchor="middle">4</text>
<text transform="translate(86.8,445.90) scale(1,1.04)" text-anchor="end">-50</text>
<text transform="translate(86.8,318.91) scale(1,1.04)" text-anchor="end">0</text>
<text transform="translate(86.8,191.93) scale(1,1.04)" text-anchor="end">50</text>
<text transform="translate(86.8,64.94) scale(1,1.04)" text-anchor="end">100</text>
</g>
<g fill="#000" text-rendering="geometricPrecision" style="opacity:0.999">
<text transform="translate(29.2,307.0) rotate(-90) scale(1,1.03)" font-family="'Liberation Serif', serif" font-weight="bold" font-size="38px">E/A [MeV]</text>
<g font-family="'Liberation Serif', serif" font-size="38px">
<text transform="translate(341.9,498.3) scale(1.18,1)" stroke="#000" stroke-width="0.3">ρ</text>
<text transform="translate(363.0,498.3) scale(0.92,1)" stroke="#000" stroke-width="0.5">/</text>
<text transform="translate(372.8,498.3) scale(1.18,1)" stroke="#000" stroke-width="0.3">ρ</text>
<text transform="translate(393.3,513.8) scale(1.13,1)" font-size="27px">0</text>
</g></g>
</svg>
</body></html>
